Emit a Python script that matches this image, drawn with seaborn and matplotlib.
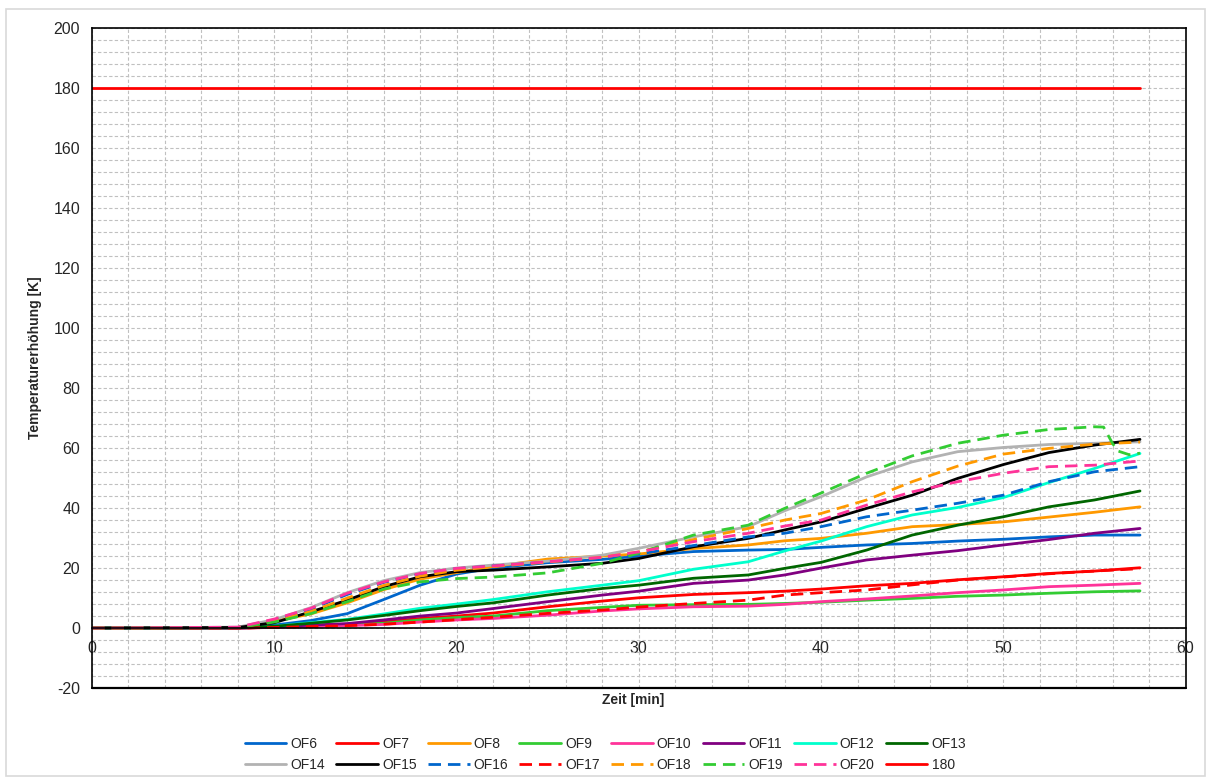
import seaborn as sns
import matplotlib.pyplot as plt
from matplotlib.patches import Rectangle
from matplotlib.ticker import MultipleLocator

# Zeitpunkte [min] (gemeinsam fuer alle Messstellen)
zeit = [0, 8, 10, 12, 14, 16, 18, 20, 22, 25, 28, 30, 33, 36, 38, 40, 42.5, 45, 47.5, 50, 52.5, 55, 57.5]
# OF19 faellt am Ende ab, deshalb eigene Zeitachse
zeit19 = [0, 8, 10, 12, 14, 16, 18, 20, 22, 25, 28, 30, 33, 36, 38, 40, 42.5, 45, 47.5, 50, 52.5, 55, 55.5, 56.0, 56.3, 56.9, 57.5]

# Temperaturerhoehung [K]
of6 = [0, 0.2, 1.0, 2.5, 4.8, 9.5, 14.3, 18.0, 20.0, 21.8, 22.9, 24.0, 25.5, 26.0, 26.2, 26.9, 27.7, 28.2, 29.0, 29.6, 30.4, 31.0, 31.0]
of7 = [0, 0, 0.3, 0.7, 1.0, 2.0, 3.2, 4.0, 5.0, 7.1, 9.0, 10.1, 11.2, 11.8, 12.3, 13.0, 14.1, 14.9, 16.1, 17.1, 18.2, 19.0, 20.1]
of8 = [0, 0.1, 2.3, 4.7, 8.4, 12.8, 16.3, 18.5, 20.5, 23.0, 24.0, 24.7, 26.5, 27.7, 29.1, 29.9, 31.6, 33.8, 34.5, 35.4, 37.0, 38.6, 40.4]
of9 = [0, 0, 0.3, 0.7, 1.0, 1.6, 2.7, 3.5, 4.0, 5.8, 6.9, 7.6, 7.8, 7.9, 8.2, 8.6, 9.3, 9.9, 10.6, 11.0, 11.6, 12.1, 12.4]
of10 = [0, 0, 0.2, 0.5, 0.8, 1.2, 2.0, 2.7, 3.2, 4.3, 5.7, 6.4, 7.1, 7.3, 7.9, 8.8, 9.7, 10.7, 11.8, 12.7, 13.8, 14.3, 14.9]
of11 = [0, 0, 0.3, 1.0, 1.5, 2.7, 4.0, 5.0, 6.5, 8.8, 11.0, 12.3, 14.9, 16.0, 17.7, 20.0, 22.7, 24.3, 25.8, 27.7, 29.5, 31.6, 33.2]
of12 = [0, 0.1, 0.6, 1.8, 2.9, 4.7, 6.6, 8.0, 9.5, 12.1, 14.3, 15.8, 19.6, 22.1, 25.7, 29.0, 33.8, 37.7, 40.2, 43.5, 48.5, 53.2, 58.2]
of13 = [0, 0.1, 0.6, 1.6, 2.7, 4.2, 5.8, 7.2, 8.4, 11.0, 13.2, 14.3, 16.6, 17.7, 19.9, 21.9, 26.0, 31.0, 34.3, 37.1, 40.4, 42.7, 45.7]
of14 = [0, 0.3, 2.8, 6.8, 11.8, 15.8, 18.5, 20.0, 21.0, 22.3, 24.3, 26.6, 30.4, 33.8, 39.1, 43.8, 50.4, 55.4, 58.8, 60.2, 61.2, 61.6, 62.1]
of15 = [0, 0.2, 1.8, 5.4, 9.3, 13.8, 17.1, 18.8, 19.3, 20.4, 21.6, 23.2, 27.1, 29.9, 32.7, 35.4, 39.9, 44.3, 49.9, 54.5, 58.5, 61.0, 62.9]
of16 = [0, 0.2, 2.5, 6.3, 11.2, 15.2, 18.0, 19.8, 20.7, 22.0, 23.3, 24.7, 27.5, 30.4, 31.6, 33.8, 37.1, 39.3, 41.6, 44.3, 48.8, 52.1, 53.8]
of17 = [0, 0, 0.2, 0.5, 0.8, 1.3, 2.0, 2.8, 3.6, 4.9, 6.0, 7.0, 8.2, 9.3, 11.0, 11.8, 12.7, 14.4, 16.0, 17.0, 18.1, 19.0, 19.8]
of18 = [0, 0.2, 2.3, 5.5, 10.0, 14.2, 17.3, 19.3, 20.5, 22.0, 23.6, 25.4, 29.5, 33.2, 36.0, 38.2, 42.7, 48.8, 54.0, 58.0, 59.9, 61.3, 62.0]
of19 = [0, 0.2, 2.0, 4.8, 8.8, 13.0, 15.4, 16.5, 17.0, 18.4, 21.6, 25.0, 31.0, 34.3, 39.9, 45.0, 51.6, 57.4, 61.6, 64.3, 66.2, 67.1, 67.0, 61.5, 59.0, 57.8, 58.3]
of20 = [0, 0.3, 3.0, 6.6, 11.6, 15.4, 18.2, 19.9, 20.7, 22.1, 23.6, 25.4, 28.8, 31.6, 34.0, 36.0, 41.0, 45.4, 48.8, 51.6, 53.8, 54.3, 55.7]
grenze_zeit = [0, 57.5]
grenze = [180, 180]

sns.set_style("white")
plt.rcParams['font.family'] = ['Liberation Sans', 'DejaVu Sans']
plt.rcParams['axes.unicode_minus'] = False

fig = plt.figure(figsize=(12.11, 7.81), dpi=100)
ax = fig.add_axes([0.076, 0.119, 0.903, 0.845])

blau, rot, orange, gruen, pink = '#0066CC', '#FF0000', '#FF9900', '#33CC33', '#FF3399'
dash = (4.5, 2.5)
lw = 2.0

sns.lineplot(x=zeit, y=of6, color=blau, lw=lw, label='OF6', ax=ax)
sns.lineplot(x=zeit, y=of7, color=rot, lw=lw, label='OF7', ax=ax)
sns.lineplot(x=zeit, y=of8, color=orange, lw=lw, label='OF8', ax=ax)
sns.lineplot(x=zeit, y=of9, color=gruen, lw=lw, label='OF9', ax=ax)
sns.lineplot(x=zeit, y=of10, color=pink, lw=lw, label='OF10', ax=ax)
sns.lineplot(x=zeit, y=of11, color='#800080', lw=lw, label='OF11', ax=ax)
sns.lineplot(x=zeit, y=of12, color='#00FFCC', lw=lw, label='OF12', ax=ax)
sns.lineplot(x=zeit, y=of13, color='#006600', lw=lw, label='OF13', ax=ax)
sns.lineplot(x=zeit, y=of14, color='#B2B2B2', lw=lw, label='OF14', ax=ax)
sns.lineplot(x=zeit, y=of15, color='black', lw=lw, label='OF15', ax=ax)
sns.lineplot(x=zeit, y=of16, color=blau, lw=lw, label='OF16', ax=ax).lines[-1].set_dashes(dash)
sns.lineplot(x=zeit, y=of17, color=rot, lw=lw, label='OF17', ax=ax).lines[-1].set_dashes(dash)
sns.lineplot(x=zeit, y=of18, color=orange, lw=lw, label='OF18', ax=ax).lines[-1].set_dashes(dash)
sns.lineplot(x=zeit19, y=of19, color=gruen, lw=lw, label='OF19', ax=ax).lines[-1].set_dashes(dash)
sns.lineplot(x=zeit, y=of20, color=pink, lw=lw, label='OF20', ax=ax).lines[-1].set_dashes(dash)
sns.lineplot(x=grenze_zeit, y=grenze, color=rot, lw=lw, label='180', ax=ax)

# Achsen wie im Excel-Diagramm
ax.set_xlim(0, 60)
ax.set_ylim(-20, 200)
ax.xaxis.set_major_locator(MultipleLocator(10))
ax.xaxis.set_minor_locator(MultipleLocator(2))
ax.yaxis.set_major_locator(MultipleLocator(20))
ax.yaxis.set_minor_locator(MultipleLocator(4))
ax.grid(which='both', color='#C0C0C0', linestyle=(0, (3, 2)), linewidth=0.8)
ax.set_axisbelow(True)

for s in ax.spines.values():
    s.set_color('black')
    s.set_linewidth(1.2)
ax.spines['bottom'].set_position(('data', 0))
ax.axhline(-20, color='black', lw=1.6, clip_on=False, zorder=5)

ax.tick_params(which='major', direction='out', length=5, width=1, labelsize=11.5, color='black')
ax.tick_params(which='minor', length=0)
ax.tick_params(axis='x', pad=4)

ax.set_xlabel('Zeit [min]', fontsize=10, fontweight='bold')
ax.set_ylabel('Temperaturerhöhung [K]', fontsize=10, fontweight='bold', labelpad=8)
ax.xaxis.set_label_coords(0.495, -0.008)

# Legende zweizeilig, zeilenweise sortiert
handles, labels = ax.get_legend_handles_labels()
order = []
for i in range(8):
    order += [i, i + 8]
ax.legend([handles[i] for i in order], [labels[i] for i in order],
          ncol=8, loc='center', bbox_to_anchor=(0.5, 0.034), bbox_transform=fig.transFigure,
          frameon=False, fontsize=10, handlelength=3.0, handletextpad=0.3,
          columnspacing=0.8, labelspacing=0.55)

fig.patches.append(Rectangle((0.005, 0.006), 0.99, 0.983, transform=fig.transFigure,
                             fill=False, edgecolor='#D9D9D9', lw=1.2))

fig.savefig('out.png', dpi=100)
